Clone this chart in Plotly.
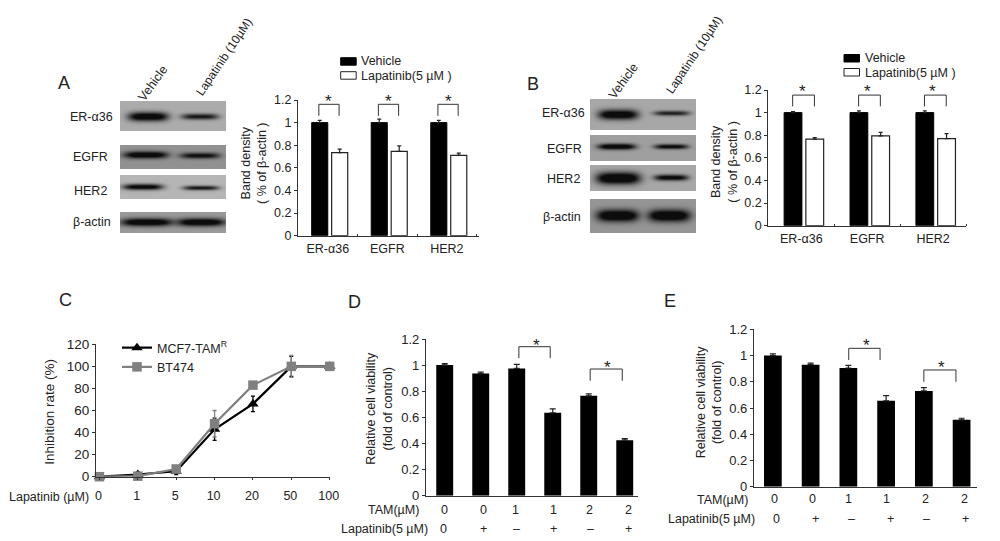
import numpy as np
import plotly.graph_objects as go

W, H = 1000, 541
FONT = "Liberation Sans"
INK = "#222222"

# ---------- data ----------
band_cats = ["ER-α36", "EGFR", "HER2"]
a_vehicle = [1.0, 1.0, 1.0]
a_vehicle_err = [0.02, 0.03, 0.02]
a_lapatinib = [0.735, 0.745, 0.71]
a_lapatinib_err = [0.03, 0.05, 0.02]

b_vehicle = [1.0, 1.0, 1.0]
b_vehicle_err = [0.01, 0.015, 0.015]
b_lapatinib = [0.765, 0.795, 0.77]
b_lapatinib_err = [0.015, 0.03, 0.045]

c_doses = ["0", "1", "5", "10", "20", "50", "100"]
c_mcf7 = [0, 2, 5, 43, 66, 100, 100]
c_mcf7_err = [0, 2, 3, 10, 7, 9, 0]
c_bt474 = [0, 0.5, 7, 48, 83, 100, 100]
c_bt474_err = [0, 1, 2, 12, 3, 10, 0]

tam_row = ["0", "0", "1", "1", "2", "2"]
lap_row = ["0", "+", "–", "+", "–", "+"]
d_values = [1.0, 0.935, 0.975, 0.635, 0.765, 0.425]
d_err = [0.012, 0.012, 0.03, 0.03, 0.015, 0.012]
e_values = [1.0, 0.93, 0.905, 0.655, 0.73, 0.51]
e_err = [0.012, 0.012, 0.02, 0.04, 0.025, 0.012]

viability_ticks = [0, 0.2, 0.4, 0.6, 0.8, 1, 1.2]
viability_labels = ["0", "0.2", "0.4", "0.6", "0.8", "1", "1.2"]
c_ticks = [0, 20, 40, 60, 80, 100, 120]

# blot strips: (left, top, right, bottom, grey)
strips_a = [(120.3, 101.7, 226.3, 131.7, 172), (120.3, 145, 226.3, 169, 146),
            (120.3, 175.3, 226.3, 199.3, 182), (120.3, 212.3, 226.3, 233.3, 155)]
# bands: (strip index, cx, cy, half width, half height, strength)
bands_a = [(0, 148.3, 116.7, 20, 4.5, 1.0), (0, 200, 116.7, 18.5, 3, 0.75),
           (1, 146, 155, 22, 3.5, 1.0), (1, 200, 155.7, 20, 3, 0.8),
           (2, 143, 187, 20, 3, 0.9), (2, 201, 188, 18, 2.3, 0.75),
           (3, 147, 222.3, 26, 4, 1.0), (3, 201, 222.3, 24, 4, 1.0)]
strips_b = [(590.3, 99.3, 696.3, 130, 168), (590.3, 135, 696.3, 161, 160),
            (590.3, 165.7, 696.3, 191.7, 168), (590.3, 199.3, 696.3, 233.3, 150)]
bands_b = [(0, 618.3, 114.7, 20, 5, 1.0), (0, 671.7, 113.3, 18, 2.5, 0.7),
           (1, 616.7, 146.7, 19, 3, 1.0), (1, 671.2, 146.7, 17, 2.5, 0.85),
           (2, 618.3, 178.3, 22, 6, 1.1), (2, 671.2, 177.7, 17, 3, 0.9),
           (3, 617.7, 215.7, 21, 6, 1.1), (3, 669.2, 215.7, 21, 6, 1.1)]


def px(x):
    return x / W


def py(y):
    return 1 - y / H


def blot(fig, strips, bands):
    for i, (l, t, r, b, g) in enumerate(strips):
        xs = np.arange(int(l), int(r)) + 0.5
        ys = np.arange(int(t), int(b)) + 0.5
        X, Y = np.meshgrid(xs, ys)
        img = np.full(X.shape, float(g))
        for s, cx, cy, hw, hh, k in bands:
            if s != i:
                continue
            shade = np.exp(-np.abs((X - cx) / hw) ** 4) * np.exp(-((Y - cy) / hh) ** 2)
            img = img - np.minimum(1, k * shade * 1.25) * (img - 12)
        rgb = np.clip(np.stack([img] * 3, axis=-1), 0, 255).astype(np.uint8)
        fig.add_trace(go.Image(z=rgb, x0=int(l) + 0.5, y0=int(t) + 0.5, dx=1, dy=1,
                               xaxis="x6", yaxis="y6", hoverinfo="skip"))


def bracket(fig, axis_n, x0, x1, top, bottom):
    fig.add_trace(go.Scatter(x=[x0, x0, x1, x1], y=[bottom, top, top, bottom], mode="lines",
                             line=dict(color="#333333", width=1), showlegend=False,
                             xaxis=f"x{axis_n}", yaxis=f"y{axis_n}", hoverinfo="skip"))


fig = go.Figure()

# ---------- panels A and B: grouped bars ----------
for n, veh, veh_e, lap, lap_e, off_v, off_l, wid in [
    (1, a_vehicle, a_vehicle_err, a_lapatinib, a_lapatinib_err, -0.27, 0.065, 0.27),
    (2, b_vehicle, b_vehicle_err, b_lapatinib, b_lapatinib_err, -0.26, 0.07, 0.27),
]:
    fig.add_trace(go.Bar(x=[0, 1, 2], y=veh, name="Vehicle", width=wid, offset=off_v,
                         marker=dict(color="black", line=dict(color="black", width=1)),
                         error_y=dict(type="data", symmetric=False, array=veh_e,
                                      arrayminus=[0, 0, 0], color="#222", thickness=1.2, width=2),
                         showlegend=False, xaxis=f"x{n}", yaxis=f"y{n}"))
    fig.add_trace(go.Bar(x=[0, 1, 2], y=lap, name="Lapatinib(5 µM )", width=wid, offset=off_l,
                         marker=dict(color="white", line=dict(color="#222", width=1.2)),
                         error_y=dict(type="data", symmetric=False, array=lap_e,
                                      arrayminus=[0, 0, 0], color="#222", thickness=1.2, width=2),
                         showlegend=False, xaxis=f"x{n}", yaxis=f"y{n}"))

for i in range(3):
    bracket(fig, 1, i - 0.15, i + 0.19, 1.162, 1.06)
    bracket(fig, 2, i - 0.13, i + 0.2, 1.155, 1.055)

# ---------- panel C: dose response ----------
fig.add_trace(go.Scatter(x=list(range(7)), y=c_mcf7, name="MCF7-TAM<sup>R</sup>", mode="lines+markers",
                         line=dict(color="black", width=2.2),
                         marker=dict(symbol="triangle-up", size=10, color="black"),
                         error_y=dict(type="data", array=c_mcf7_err, color="black", thickness=1.3, width=2),
                         cliponaxis=False, xaxis="x3", yaxis="y3"))
fig.add_trace(go.Scatter(x=list(range(7)), y=c_bt474, name="BT474", mode="lines+markers",
                         line=dict(color="#808080", width=2.2),
                         marker=dict(symbol="square", size=9.5, color="#808080"),
                         error_y=dict(type="data", array=c_bt474_err, color="#808080", thickness=1.3, width=2),
                         cliponaxis=False, xaxis="x3", yaxis="y3"))

# ---------- panels D and E: viability bars ----------
for n, vals, errs in [(4, d_values, d_err), (5, e_values, e_err)]:
    fig.add_trace(go.Bar(x=list(range(6)), y=vals, width=0.47, name="Relative cell viability",
                         marker=dict(color="black", line=dict(width=0)),
                         error_y=dict(type="data", symmetric=False, array=errs,
                                      arrayminus=[0] * 6, color="#222", thickness=1.2, width=3),
                         showlegend=False, xaxis=f"x{n}", yaxis=f"y{n}"))
bracket(fig, 4, 2.06, 2.93, 1.141, 1.053)
bracket(fig, 4, 4.04, 4.93, 0.97, 0.88)
bracket(fig, 5, 2.01, 2.84, 1.055, 0.966)
bracket(fig, 5, 4.0, 4.85, 0.89, 0.80)

# ---------- blots ----------
blot(fig, strips_a, bands_a)
blot(fig, strips_b, bands_b)

# ---------- axes ----------
axis_line = dict(showgrid=False, zeroline=False, showline=True, linecolor="#333333", linewidth=1.2)


def tick_font(size):
    return dict(family=FONT, size=size, color=INK)


def place(n, l, t, r, b, xr, yr, x_extra, y_extra):
    fig.update_layout(**{
        f"xaxis{n}": dict(domain=[px(l), px(r)], range=xr, anchor=f"y{n}", **axis_line, **x_extra),
        f"yaxis{n}": dict(domain=[py(b), py(t)], range=yr, anchor=f"x{n}", **axis_line, **y_extra),
    })


def bar_x(labels, standoff):
    return dict(tickmode="array", tickvals=[0, 1, 2], ticktext=labels, ticks="", tickfont=tick_font(12.5),
                ticklabelstandoff=standoff,
                minor=dict(tickmode="array", tickvals=[0.5, 1.5, 2.5], ticks="inside",
                           ticklen=2, tickcolor="#333", tickwidth=1))


def val_y(size):
    return dict(tickmode="array", tickvals=viability_ticks, ticktext=viability_labels,
                ticks="outside", ticklen=3, tickcolor="#333", tickwidth=1, tickfont=tick_font(size))


place(1, 298, 100, 479, 235.7, [-0.5, 2.54], [0, 1.2], bar_x(band_cats, 1), val_y(12.5))
place(2, 768.3, 90, 966, 225.7, [-0.5, 2.5], [0, 1.2], bar_x(band_cats, 1), val_y(12.5))
place(3, 96, 344.3, 329.7, 476.7, [-0.09, 6], [0, 120],
      dict(tickmode="array", tickvals=list(range(7)), ticktext=c_doses, ticks="outside", ticklen=2,
           tickcolor="#333", tickwidth=1, tickfont=tick_font(12.5), ticklabelstandoff=5, ticklabelshift=-1),
      dict(tickmode="array", tickvals=c_ticks, ticks="outside", ticklen=3, tickcolor="#333", tickwidth=1,
           tickfont=tick_font(13.5)))
no_x = dict(tickmode="array", tickvals=[], ticks="")
place(4, 426, 339, 637.7, 495.7, [-0.52, 5.36], [0, 1.2], no_x, val_y(13))
place(5, 754, 329.3, 976.7, 486.7, [-0.5, 5.4], [0, 1.2], no_x, val_y(13))
fig.update_layout(
    xaxis6=dict(domain=[0, 1], range=[0, W], visible=False, anchor="y6"),
    yaxis6=dict(domain=[0, 1], range=[H, 0], visible=False, anchor="x6"),
)

# ---------- free text and keys ----------
annotations = []


def text(s, x, y, size=12, angle=0, anchor="center"):
    annotations.append(dict(text=s, x=px(x), y=py(y), xref="paper", yref="paper", showarrow=False,
                            xanchor=anchor, yanchor="middle", textangle=angle,
                            font=dict(family=FONT, size=size, color=INK)))


band_title = "Band density<br>( % of β-actin )"
via_title = "Relative cell viability<br>(fold of control)"
text(band_title, 254, 163, 12.5, -90)
text(band_title, 724, 161.7, 12.5, -90)
text(via_title, 379, 408.7, 12.5, -90)
text(via_title, 709, 402.3, 12.5, -90)
text("Inhibition rate (%)", 50, 411.7, 13.5, -90)

for s, x, y in [("A", 64, 83.3), ("B", 533.3, 84), ("C", 65, 300), ("D", 354, 302.3), ("E", 670, 301)]:
    text(s, x, y, 18)

for s, x, y in [("ER-α36", 91, 116.7), ("EGFR", 90, 156.7), ("HER2", 90, 190.7), ("β-actin", 91.7, 222.3),
                ("ER-α36", 563.3, 113.3), ("EGFR", 564.3, 149.3), ("HER2", 563.3, 179.3), ("β-actin", 561.7, 216.7)]:
    text(s, x, y, 12.5)

for x, y in [(153.3, 83.3), (623.3, 80.7)]:
    text("Vehicle", x, y, 12.5, -54)
for x, y in [(224, 57), (694, 55)]:
    text("Lapatinib (10µM)", x, y, 12, -56)

for x, y in [(328, 100), (388, 100), (448, 100), (802.5, 90), (867.5, 90), (932, 90),
             (536, 343.7), (607.7, 365.3), (866.7, 343.7), (941.7, 365.3)]:
    text("*", x, y + 2, 17)

text("Lapatinib (µM)", 48.5, 496.7, 12.5)
text("TAM(µM)", 421, 510, 12.5, anchor="right")
text("Lapatinib(5 µM)", 430.3, 529, 12.5, anchor="right")
for s, x in zip(tam_row, [444, 483, 515, 553, 589, 628]):
    text(s, x, 510, 12.5)
for s, x in zip(lap_row, [443, 483, 516, 553, 590.7, 628]):
    text(s, x, 529, 12.5)
text("TAM(µM)", 750, 500, 12.5, anchor="right")
text("Lapatinib(5 µM)", 757, 518.7, 12.5, anchor="right")
for s, x in zip(tam_row, [774, 812.7, 848.3, 886.7, 925, 964]):
    text(s, x, 499.3, 12.5)
for s, x in zip(lap_row, [776.7, 815.7, 851.7, 890.7, 926, 965]):
    text(s, x, 518.7, 12.5)

shapes = []
for lx, ly in [(340.7, 57.7), (844, 54.5)]:
    shapes.append(dict(type="rect", xref="paper", yref="paper", x0=px(lx), x1=px(lx + 15.5),
                       y0=py(ly), y1=py(ly + 7.5), fillcolor="black", line=dict(color="black", width=1)))
    shapes.append(dict(type="rect", xref="paper", yref="paper", x0=px(lx), x1=px(lx + 15.5),
                       y0=py(ly + 14), y1=py(ly + 21.5), fillcolor="white", line=dict(color="#222", width=1)))
    text("Vehicle", lx + 18.5, ly + 3.5, 12.5, anchor="left")
    text("Lapatinib(5 µM )", lx + 18.5, ly + 18, 12.5, anchor="left")

fig.update_layout(
    width=W, height=H, margin=dict(l=0, r=0, t=0, b=0, autoexpand=False), autosize=False,
    paper_bgcolor="white", plot_bgcolor="rgba(0,0,0,0)",
    font=dict(family=FONT, size=12, color=INK), barmode="overlay",
    annotations=annotations, shapes=shapes,
    legend=dict(x=px(117), y=py(333), xanchor="left", yanchor="top", bgcolor="rgba(0,0,0,0)",
                font=dict(family=FONT, size=12.5, color=INK), tracegroupgap=0),
)

fig.write_html("out.html", config=dict(displayModeBar=False))
with open("out.html", encoding="utf-8") as f:
    page = f.read()
page = page.replace("<head>", "<head><style>html,body{margin:0;padding:0;overflow:hidden;background:#fff}</style>", 1)
with open("out.html", "w", encoding="utf-8") as f:
    f.write(page)
